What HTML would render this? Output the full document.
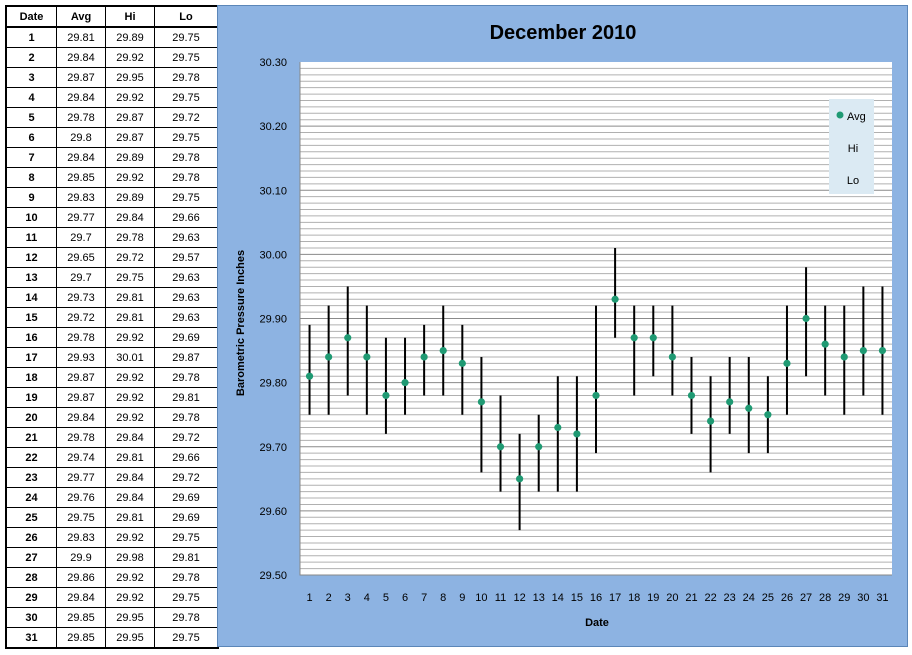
<!DOCTYPE html>
<html><head><meta charset="utf-8">
<style>
body{margin:0;width:912px;height:655px;background:#fff;font-family:"Liberation Sans",sans-serif;overflow:hidden;position:relative}
table{position:absolute;left:5px;top:5px;border-collapse:collapse;border:2px solid #000}
td{border:1px solid #000;height:19px;padding:0;text-align:center;font-size:11px;color:#000}
td.d{font-weight:bold;width:49px}
td.v{width:48px}
td.v2{width:62px}
tr.h td{font-weight:bold;border-bottom:2px solid #000}
#chart{position:absolute;left:217px;top:5px}
</style></head><body>
<table id="tbl">
<tr class="h"><td class="d">Date</td><td class="v">Avg</td><td class="v">Hi</td><td class="v2">Lo</td></tr>
</table>
<svg id="chart" width="692" height="643">
<rect x="0.5" y="0.5" width="690" height="641" fill="#8db3e2" stroke="#5b86b8"/>
<text x="346" y="34" text-anchor="middle" font-size="20" font-weight="bold" fill="#000">December 2010</text>
<g id="plot"></g>
<text transform="translate(27,318) rotate(-90)" text-anchor="middle" font-size="11" font-weight="bold">Barometric Pressure Inches</text>
<text x="380" y="621" text-anchor="middle" font-size="11" font-weight="bold">Date</text>
<g>
<rect x="612" y="94" width="45" height="95" fill="#dbeaf3"/>
<circle cx="623" cy="110" r="3.5" fill="#1f9a73"/>
<text x="630" y="115" font-size="11">Avg</text>
<text x="636" y="147" text-anchor="middle" font-size="11">Hi</text>
<text x="636" y="179" text-anchor="middle" font-size="11">Lo</text>
</g>
</svg>
<script>
const dates=[1,2,3,4,5,6,7,8,9,10,11,12,13,14,15,16,17,18,19,20,21,22,23,24,25,26,27,28,29,30,31];
const avg=[29.81,29.84,29.87,29.84,29.78,29.8,29.84,29.85,29.83,29.77,29.7,29.65,29.7,29.73,29.72,29.78,29.93,29.87,29.87,29.84,29.78,29.74,29.77,29.76,29.75,29.83,29.9,29.86,29.84,29.85,29.85];
const hi=[29.89,29.92,29.95,29.92,29.87,29.87,29.89,29.92,29.89,29.84,29.78,29.72,29.75,29.81,29.81,29.92,30.01,29.92,29.92,29.92,29.84,29.81,29.84,29.84,29.81,29.92,29.98,29.92,29.92,29.95,29.95];
const lo=[29.75,29.75,29.78,29.75,29.72,29.75,29.78,29.78,29.75,29.66,29.63,29.57,29.63,29.63,29.63,29.69,29.87,29.78,29.81,29.78,29.72,29.66,29.72,29.69,29.69,29.75,29.81,29.78,29.75,29.78,29.75];
const yTicks=["29.50","29.60","29.70","29.80","29.90","30.00","30.10","30.20","30.30"];
const tbl=document.getElementById('tbl');
dates.forEach((d,i)=>{
  const tr=document.createElement('tr');
  
  
  tr.innerHTML='<td class="d">'+d+'</td><td class="v">'+avg[i]+'</td><td class="v">'+hi[i]+'</td><td class="v2">'+lo[i]+'</td>';
  tbl.appendChild(tr);
});
const NS='http://www.w3.org/2000/svg';
const L=83,R=675,T=57,B=570,ymin=29.5,ymax=30.3;
const y=v=>B-(v-ymin)/(ymax-ymin)*(B-T);
const bw=(R-L)/dates.length;
const x=i=>L+bw*(i+0.5);
const g=document.getElementById('plot');
function el(t,a){const e=document.createElementNS(NS,t);for(const k in a)e.setAttribute(k,a[k]);g.appendChild(e);return e;}
const bg=el('rect',{x:L,y:T,width:R-L,height:B-T,fill:'#fff'});


for(let k=1;k<80;k++){
  const yy=y(ymin+k*0.01);
  const ln=el('line',{x1:L,x2:R,y1:yy,y2:yy,stroke:k%10==0?'#8a8a8a':'#b0b0b0','stroke-width':1});
  
  
}
const ax=el('path',{d:`M${L},${T}V${B}H${R}`,stroke:'#888',fill:'none'});


yTicks.forEach(t=>{
  const tx=el('text',{x:L-13,y:y(+t)+4,'text-anchor':'end','font-size':11});
  tx.textContent=t;
  
  
});
dates.forEach((d,i)=>{
  const tx=el('text',{x:x(i),y:596,'text-anchor':'middle','font-size':11});
  tx.textContent=d;
  
  
  const bar=el('line',{x1:x(i),x2:x(i),y1:y(hi[i]),y2:y(lo[i]),stroke:'#000','stroke-width':2});
  
  
  const c=el('circle',{cx:x(i),cy:y(avg[i]),r:3.6,fill:'#1f9a73'});
  
  
});
</script>
</body></html>
